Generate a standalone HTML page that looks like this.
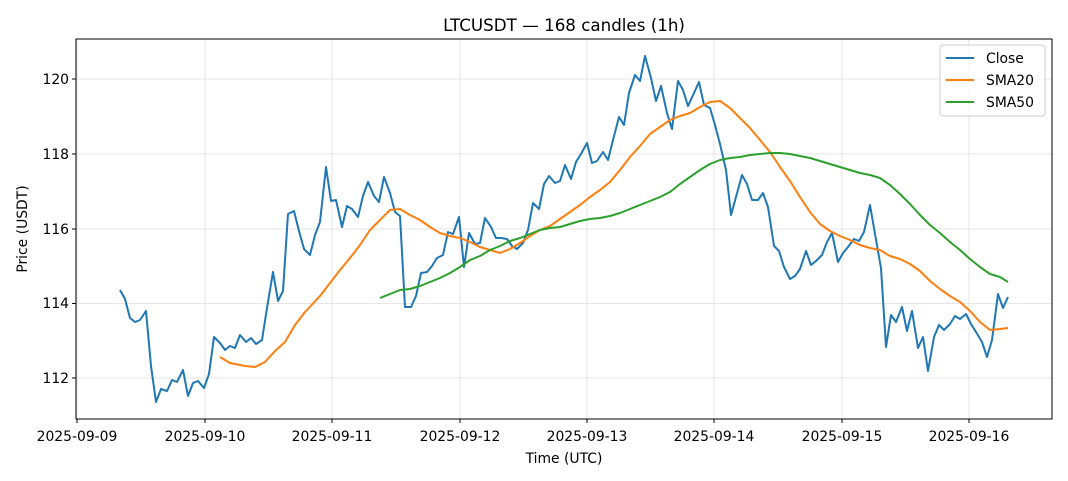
<!DOCTYPE html>
<html><head><meta charset="utf-8"><style>
html,body{margin:0;padding:0;background:#fff;}
svg{display:block;font-family:"DejaVu Sans","Liberation Sans",sans-serif;}
</style></head><body>
<svg width="1068" height="481" viewBox="0 0 1068 481" xmlns="http://www.w3.org/2000/svg">
<rect width="1068" height="481" fill="#fff"/>
<text x="564" y="31" font-size="16.7" text-anchor="middle" fill="#000">LTCUSDT — 168 candles (1h)</text>
<g stroke="#e6e6e6" stroke-width="1">
<line x1="77" y1="39" x2="77" y2="419"/><line x1="205" y1="39" x2="205" y2="419"/><line x1="332" y1="39" x2="332" y2="419"/><line x1="460" y1="39" x2="460" y2="419"/><line x1="587" y1="39" x2="587" y2="419"/><line x1="714" y1="39" x2="714" y2="419"/><line x1="842" y1="39" x2="842" y2="419"/><line x1="969" y1="39" x2="969" y2="419"/>
<line x1="76" y1="79" x2="1052" y2="79"/><line x1="76" y1="154" x2="1052" y2="154"/><line x1="76" y1="229" x2="1052" y2="229"/><line x1="76" y1="303.5" x2="1052" y2="303.5"/><line x1="76" y1="378" x2="1052" y2="378"/>
</g>
<g fill="none" stroke-width="2" stroke-linejoin="round">
<polyline stroke="#1f77b4" points="120,290 125,299 130,318 135,322 140,320 146,311 151,366 156,402 161,389 167,391 172,380 177,382 183,370 188,396 193,383 198,381 204,388 209,374 214,337 220,343 225,350 230,346 235,348 240,335 246,342 251,338 256,344 262,340 267,308 273,272 278,301 283,291 288,214 294,211 299,231 304,249 310,255 315,235 320,222 326,167 331,201 336,200 342,227 347,206 352,209 358,217 363,196 368,182 374,196 379,202 384,177 390,193 395,212 400,216 405,307 411,307 416,296 421,273 427,272 432,266 437,258 443,255 448,232 453,234 459,217 464,267 469,233 475,244 480,243 485,218 491,227 496,238 501,238 507,239 512,246 517,249 523,243 528,230 533,203 539,209 544,184 549,176 555,183 560,181 565,165 571,179 576,162 581,154 587,143 592,163 597,161 603,152 608,160 613,140 619,117 624,125 629,93 635,75 640,81 645,56 651,78 656,101 661,86 667,113 672,129 678,81 683,90 688,106 694,93 699,82 704,105 710,108 715,125 720,144 726,170 731,215 736,197 742,175 747,184 752,200 758,200 763,193 768,207 774,246 779,251 784,267 790,279 795,276 800,269 806,251 811,265 816,261 822,255 827,242 832,233 838,262 843,253 848,247 854,239 859,241 864,232 870,205 875,234 881,268 886,347 891,315 896,322 902,307 907,331 912,311 918,348 923,337 928,371 934,337 939,325 944,330 950,324 955,316 960,319 966,314 971,324 976,332 982,342 987,357 992,340 998,294 1003,308 1008,297"/>
<polyline stroke="#ff7f0e" points="220,357 230,363 245,366 255,367 265,362 275,351 285,342 295,325 305,312 320,296 330,283 340,270 350,258 360,245 370,230 380,220 390,210 400,209 410,215 420,220 430,227 440,233 450,236 460,238 470,242 480,247 490,250 500,253 510,249 520,243 530,236 540,230 550,226 560,219 570,212 580,205 590,197 600,190 610,182 620,170 630,157 640,146 650,134 660,127 670,120 680,116 690,113 700,107 710,102 720,101 730,108 740,118 750,128 760,140 770,152 780,167 790,181 800,197 810,212 820,224 830,231 840,236 850,240 860,245 870,248 880,250 890,256 900,259 910,264 920,271 930,281 940,289 950,296 960,302 970,311 980,322 990,330 1000,329 1008,328"/>
<polyline stroke="#2ca02c" points="380,298 390,294 400,290 410,289 420,286 430,282 440,278 450,273 460,267 470,260 480,256 490,250 500,246 510,241 520,238 530,234 540,230 550,228 560,227 570,224 580,221 590,219 600,218 610,216 620,213 630,209 640,205 650,201 660,197 670,192 680,184 690,177 700,170 710,164 720,160 730,158 740,157 750,155 760,154 770,153 780,153 790,154 800,156 810,158 820,161 830,164 840,167 850,170 860,173 870,175 880,178 890,185 900,194 910,204 920,215 930,225 940,233 950,242 960,250 970,259 980,267 990,274 1000,277 1008,282"/>
</g>
<rect x="76" y="39" width="976" height="380" fill="none" stroke="#000" stroke-width="1"/>
<g stroke="#000" stroke-width="1">
<line x1="77" y1="419" x2="77" y2="423"/><line x1="205" y1="419" x2="205" y2="423"/><line x1="332" y1="419" x2="332" y2="423"/><line x1="460" y1="419" x2="460" y2="423"/><line x1="587" y1="419" x2="587" y2="423"/><line x1="714" y1="419" x2="714" y2="423"/><line x1="842" y1="419" x2="842" y2="423"/><line x1="969" y1="419" x2="969" y2="423"/>
<line x1="72" y1="79" x2="76" y2="79"/><line x1="72" y1="154" x2="76" y2="154"/><line x1="72" y1="229" x2="76" y2="229"/><line x1="72" y1="303.5" x2="76" y2="303.5"/><line x1="72" y1="378" x2="76" y2="378"/>
</g>
<g font-size="13.9" fill="#000" text-anchor="middle">
<text x="77" y="441">2025-09-09</text><text x="205" y="441">2025-09-10</text><text x="332" y="441">2025-09-11</text><text x="460" y="441">2025-09-12</text><text x="587" y="441">2025-09-13</text><text x="714" y="441">2025-09-14</text><text x="842" y="441">2025-09-15</text><text x="969" y="441">2025-09-16</text>
<text x="564" y="463">Time (UTC)</text>
</g>
<g font-size="13.9" fill="#000" text-anchor="end">
<text x="69" y="84">120</text><text x="69" y="159">118</text><text x="69" y="234">116</text><text x="69" y="308">114</text><text x="69" y="383">112</text>
</g>
<text transform="translate(27,229) rotate(-90)" font-size="13.9" text-anchor="middle">Price (USDT)</text>
<rect x="940" y="45" width="105" height="71" rx="3" fill="#fff" fill-opacity="0.8" stroke="#ccc"/>
<g stroke-width="2"><line x1="946" y1="58" x2="974" y2="58" stroke="#1f77b4"/><line x1="946" y1="80" x2="974" y2="80" stroke="#ff7f0e"/><line x1="946" y1="102" x2="974" y2="102" stroke="#2ca02c"/></g>
<g font-size="13.9" fill="#000"><text x="986" y="63">Close</text><text x="986" y="85">SMA20</text><text x="986" y="107">SMA50</text></g>
</svg>
</body></html>
